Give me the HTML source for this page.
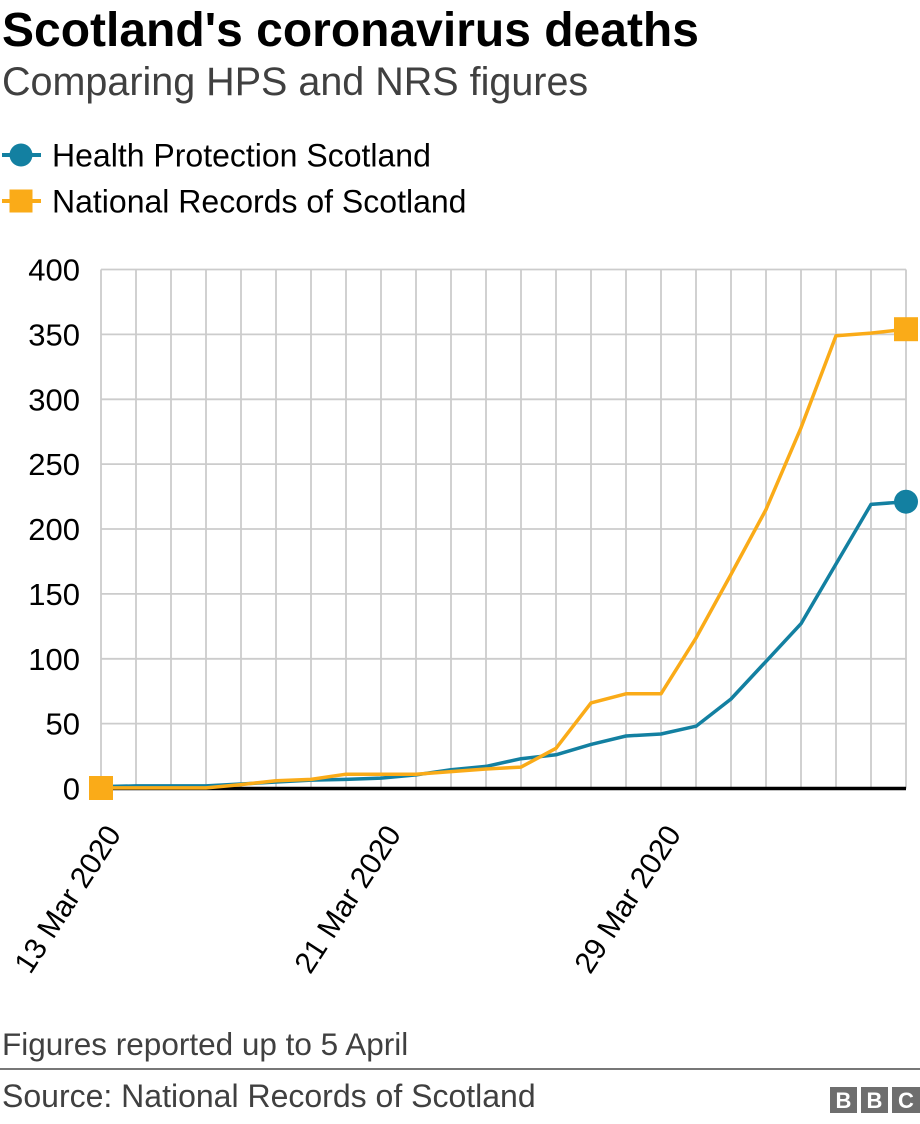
<!DOCTYPE html>
<html>
<head>
<meta charset="utf-8">
<style>
  html, body { margin:0; padding:0; background:#fff; }
  svg { display:block; }
  text { font-family: "Liberation Sans", Arial, sans-serif; }
</style>
</head>
<body>
<svg width="920" height="1124" viewBox="0 0 920 1124" xmlns="http://www.w3.org/2000/svg">
  <rect x="0" y="0" width="920" height="1124" fill="#fff"/>

  <!-- Title & subtitle -->
  <text x="2" y="46" font-size="48" font-weight="bold" fill="#000">Scotland's coronavirus deaths</text>
  <text x="2" y="95" font-size="39.5" fill="#404040">Comparing HPS and NRS figures</text>

  <!-- Legend -->
  <line x1="2" y1="155" x2="41" y2="155" stroke="#1380A1" stroke-width="4"/>
  <circle cx="21" cy="155" r="11.5" fill="#1380A1"/>
  <text x="52" y="166.5" font-size="32" fill="#000">Health Protection Scotland</text>
  <line x1="2" y1="201" x2="41" y2="201" stroke="#FAAB18" stroke-width="4"/>
  <rect x="9.5" y="189.5" width="23" height="23" fill="#FAAB18"/>
  <text x="52" y="212.5" font-size="32" fill="#000">National Records of Scotland</text>

  <!-- Grid -->
  <g stroke="#cccccc" stroke-width="1.8" fill="none">
    <line x1="101" y1="269.5" x2="906" y2="269.5"/>
    <line x1="101" y1="334.4" x2="906" y2="334.4"/>
    <line x1="101" y1="399.3" x2="906" y2="399.3"/>
    <line x1="101" y1="464.1" x2="906" y2="464.1"/>
    <line x1="101" y1="529.0" x2="906" y2="529.0"/>
    <line x1="101" y1="593.9" x2="906" y2="593.9"/>
    <line x1="101" y1="658.8" x2="906" y2="658.8"/>
    <line x1="101" y1="723.6" x2="906" y2="723.6"/>
    <line x1="101" y1="269.5" x2="101" y2="788.5"/>
    <line x1="136" y1="269.5" x2="136" y2="788.5"/>
    <line x1="171" y1="269.5" x2="171" y2="788.5"/>
    <line x1="206" y1="269.5" x2="206" y2="788.5"/>
    <line x1="241" y1="269.5" x2="241" y2="788.5"/>
    <line x1="276" y1="269.5" x2="276" y2="788.5"/>
    <line x1="311" y1="269.5" x2="311" y2="788.5"/>
    <line x1="346" y1="269.5" x2="346" y2="788.5"/>
    <line x1="381" y1="269.5" x2="381" y2="788.5"/>
    <line x1="416" y1="269.5" x2="416" y2="788.5"/>
    <line x1="451" y1="269.5" x2="451" y2="788.5"/>
    <line x1="486" y1="269.5" x2="486" y2="788.5"/>
    <line x1="521" y1="269.5" x2="521" y2="788.5"/>
    <line x1="556" y1="269.5" x2="556" y2="788.5"/>
    <line x1="591" y1="269.5" x2="591" y2="788.5"/>
    <line x1="626" y1="269.5" x2="626" y2="788.5"/>
    <line x1="661" y1="269.5" x2="661" y2="788.5"/>
    <line x1="696" y1="269.5" x2="696" y2="788.5"/>
    <line x1="731" y1="269.5" x2="731" y2="788.5"/>
    <line x1="766" y1="269.5" x2="766" y2="788.5"/>
    <line x1="801" y1="269.5" x2="801" y2="788.5"/>
    <line x1="836" y1="269.5" x2="836" y2="788.5"/>
    <line x1="871" y1="269.5" x2="871" y2="788.5"/>
    <line x1="906" y1="269.5" x2="906" y2="788.5"/>
  </g>

  <!-- Y tick labels -->
  <g font-size="31" fill="#000" text-anchor="end">
    <text x="80" y="280.5">400</text>
    <text x="80" y="345.4">350</text>
    <text x="80" y="410.3">300</text>
    <text x="80" y="475.1">250</text>
    <text x="80" y="540.0">200</text>
    <text x="80" y="604.9">150</text>
    <text x="80" y="669.8">100</text>
    <text x="80" y="734.6">50</text>
    <text x="80" y="799.5">0</text>
  </g>

  <!-- Zero line -->
  <line x1="99" y1="788.5" x2="906" y2="788.5" stroke="#000" stroke-width="3.5"/>

  <!-- HPS series -->
  <polyline fill="none" stroke="#1380A1" stroke-width="3.5" stroke-linejoin="round"
    points="101,786.6 136,785.9 171,785.9 206,785.9 241,784.0 276,782.0 311,780.1 346,779.4 381,778.1 416,774.9 451,769.7 486,766.4 521,758.7 556,754.8 591,744.4 626,736.0 661,734.0 696,726.2 731,699.0 766,661.4 801,623.7 836,564.0 871,504.4 906,501.7"/>
  <circle cx="906" cy="501.7" r="12" fill="#1380A1"/>

  <!-- NRS series -->
  <polyline fill="none" stroke="#FAAB18" stroke-width="3.5" stroke-linejoin="round"
    points="101,787.9 136,787.9 171,787.9 206,787.9 241,784.6 276,780.7 311,779.4 346,774.2 381,774.2 416,774.2 451,771.6 486,769.0 521,767.1 556,748.3 591,702.9 626,693.8 661,693.8 696,638.0 731,574.4 766,509.5 801,427.8 836,335.7 871,333.1 906,329.2"/>
  <rect x="89" y="776" width="24" height="24" fill="#FAAB18"/>
  <rect x="894" y="317.2" width="24" height="24" fill="#FAAB18"/>

  <!-- X tick labels -->
  <g font-size="30" fill="#000" text-anchor="end">
    <text transform="translate(122,834) rotate(-57)">13 Mar 2020</text>
    <text transform="translate(402,834) rotate(-57)">21 Mar 2020</text>
    <text transform="translate(682,834) rotate(-57)">29 Mar 2020</text>
  </g>

  <!-- Footer -->
  <text x="2" y="1055" font-size="31.5" fill="#404040">Figures reported up to 5 April</text>
  <line x1="0" y1="1069" x2="920" y2="1069" stroke="#777" stroke-width="2"/>
  <text x="2" y="1107" font-size="32" fill="#404040">Source: National Records of Scotland</text>

  <!-- BBC logo -->
  <g>
    <rect x="830" y="1087" width="27" height="26" fill="#6e6e6e"/>
    <rect x="861" y="1087" width="27" height="26" fill="#6e6e6e"/>
    <rect x="892" y="1087" width="28" height="26" fill="#6e6e6e"/>
    <g font-size="22" font-weight="bold" fill="#fff" text-anchor="middle">
      <text x="843.5" y="1108">B</text>
      <text x="874.5" y="1108">B</text>
      <text x="906" y="1108">C</text>
    </g>
  </g>
</svg>
</body>
</html>
